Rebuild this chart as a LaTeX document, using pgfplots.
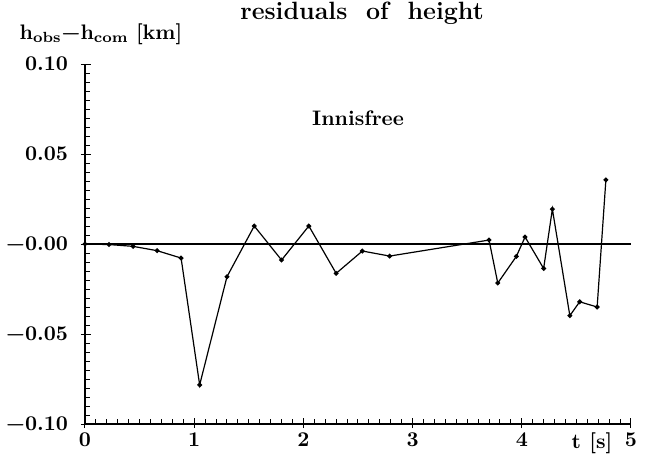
\documentclass[border=0pt]{standalone}
\usepackage{fontspec}
\usepackage{pgfplots}
\pgfplotsset{compat=1.18}

% height residuals, Innisfree fireball
\pgfplotstableread{
t     dh
0.00   0.0000
0.22  -0.0003
0.44  -0.0013
0.66  -0.0037
0.88  -0.0078
1.05  -0.0783
1.30  -0.0182
1.55   0.0100
1.80  -0.0089
2.05   0.0100
2.30  -0.0163
2.54  -0.0039
2.79  -0.0067
3.70   0.0022
3.78  -0.0217
3.95  -0.0069
4.03   0.0039
4.20  -0.0136
4.28   0.0194
4.44  -0.0398
4.53  -0.0321
4.69  -0.0350
4.77   0.0356
}\residuals

\begin{document}
\begin{tikzpicture}[font=\fontsize{10.5}{12}\selectfont\bfseries]
\useasboundingbox (-42.5pt,-22pt) rectangle (286.5pt,212pt);
\begin{axis}[
  at={(0,0)}, anchor=south west,
  scale only axis, width=273pt, height=180pt,
  xmin=0, xmax=5, ymin=-0.1, ymax=0.1,
  axis x line=bottom, axis y line=left,
  axis line style={-, line width=0.7pt},
  xtick={0,1,2,3,4,5},
  xticklabels={0,1,2,3,4,5},
  ytick={-0.1,-0.05,0,0.05,0.1},
  yticklabels={−0.10,−0.05,−0.00,0.05,0.10},
  minor x tick num=9, minor y tick num=9,
  tick align=inside,
  major tick length=5pt, minor tick length=2.5pt,
  tick style={black, line width=0.5pt},
  major x tick style={yshift=-2pt},
  major y tick style={xshift=-2pt},
  ticklabel style={font=\fontsize{10.5}{12}\selectfont\bfseries},
  yticklabel style={xshift=-5pt},
  xticklabel style={yshift=-1pt},
  clip=false,
]
\addplot[black, line width=0.8pt, forget plot] coordinates {(0,0) (5,0)};
\addplot[black, line width=0.6pt, mark=*, mark size=0.9pt] table[x=t, y=dh] {\residuals};
\node at (axis cs:2.5,0.07) {Innisfree};
\end{axis}
\node at (138.5pt,205.5pt) {\fontsize{12.5}{14}\selectfont\addfontfeature{LetterSpace=10}residuals\ \ of\ \ height};
\node at (8pt,195pt) {h\textsubscript{obs}−h\textsubscript{com}\hspace{0.35em}[km]};
\node at (253.5pt,-9.5pt) {t\hspace{0.4em}[s]};
\end{tikzpicture}
\end{document}
